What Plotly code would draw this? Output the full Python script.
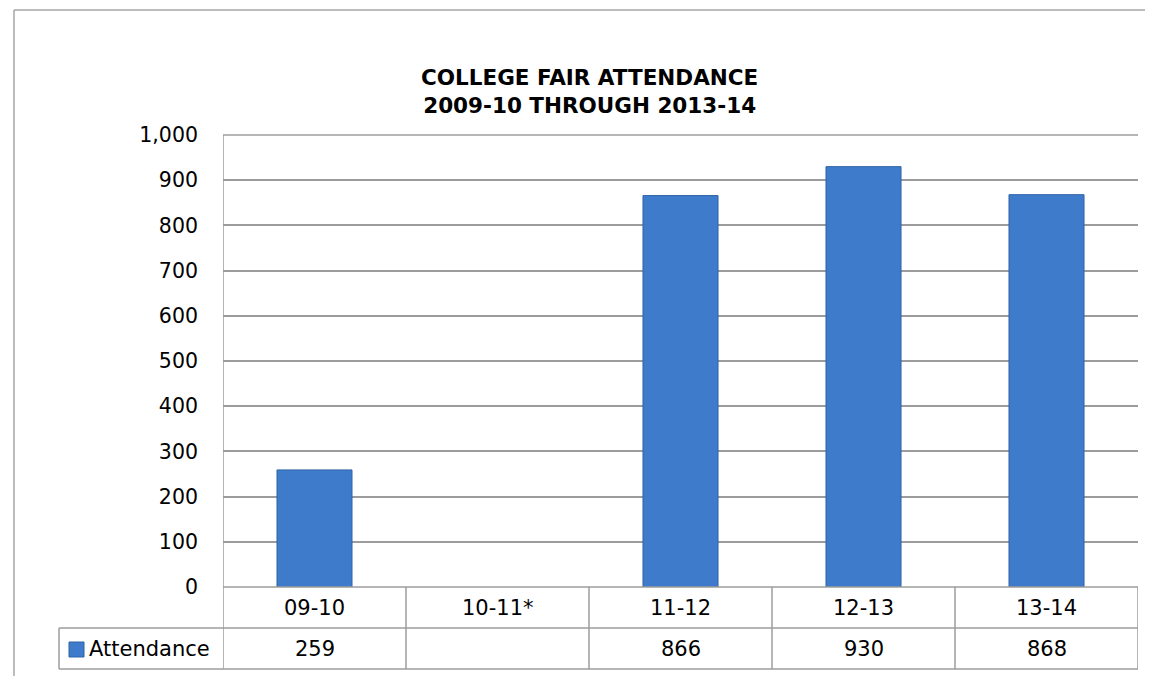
import plotly.graph_objects as go

categories = ["09-10", "10-11*", "11-12", "12-13", "13-14"]
attendance = [259, None, 866, 930, 868]
series_name = "Attendance"
y_ticks = [0, 100, 200, 300, 400, 500, 600, 700, 800, 900, 1000]
title_lines = ["COLLEGE FAIR ATTENDANCE", "2009-10 THROUGH 2013-14"]

OFF = 8  # page body margin
W, H = 1153 - OFF, 676 - OFF
L, R, T, B = 223 - OFF, 1138 - OFF, 135 - OFF, 587 - OFF
pw, ph = R - L, B - T

def px_x(px):
    return (px - OFF - L) / pw

def px_y(py):
    return (B - (py - OFF)) / ph

FONT = "DejaVu Sans"
GRID = "#9C9C9C"
BAR = "#3E7CCB"
BAR_EDGE = "#2F63A6"
LW = 1.5

fig = go.Figure()
fig.add_trace(go.Bar(
    x=list(range(len(categories))),
    y=attendance,
    name=series_name,
    width=0.41,
    marker=dict(color=BAR, line=dict(color=BAR_EDGE, width=1)),
    showlegend=False,
))

shapes = []
def line(xref, x0, x1, y0, y1, color=GRID, layer="above"):
    shapes.append(dict(type="line", xref=xref, yref="paper", x0=x0, x1=x1, y0=y0, y1=y1,
                       line=dict(color=color, width=LW), layer=layer))

# outer chart frame
line("paper", px_x(14), px_x(1160), px_y(10), px_y(10), color="#A6A6A6")
line("paper", px_x(14), px_x(14), px_y(10), px_y(680), color="#A6A6A6")

row1_bot = px_y(628)
row2_bot = px_y(669)
n = len(categories)
# plot area top & bottom lines
line("paper", 0, 1, 1, 1, layer="below")
line("paper", 0, 1, 0, 0)
# data table horizontal lines
line("paper", px_x(59), 1, row1_bot, row1_bot)
line("paper", px_x(59), 1, row2_bot, row2_bot)
line("paper", px_x(59), px_x(59), row1_bot, row2_bot)
# vertical dividers at category boundaries
for i in range(n + 1):
    line("x", i - 0.5, i - 0.5, row2_bot, 1 if i == 0 else 0)
# legend key square
shapes.append(dict(type="rect", xref="paper", yref="paper",
                   x0=px_x(69), x1=px_x(84), y0=px_y(657), y1=px_y(642),
                   fillcolor=BAR, line=dict(color=BAR_EDGE, width=1)))

TF = dict(family=FONT, size=21, color="#000")
annotations = []
for i, c in enumerate(categories):
    annotations.append(dict(x=i, y=px_y(608), xref="x", yref="paper", text=c,
                            showarrow=False, font=TF, xanchor="center", yanchor="middle"))
    v = attendance[i]
    annotations.append(dict(x=i, y=px_y(648.5), xref="x", yref="paper",
                            text="" if v is None else f"{v:,}",
                            showarrow=False, font=TF, xanchor="center", yanchor="middle"))
annotations.append(dict(x=px_x(87), y=px_y(648.5), xref="paper", yref="paper", text=series_name,
                        showarrow=False, font=TF, xanchor="left", yanchor="middle"))
annotations.append(dict(x=px_x(589), y=px_y(91), xref="paper", yref="paper",
                        text="<b>" + title_lines[0] + "</b><br><b>" + title_lines[1] + "</b>",
                        showarrow=False, font=dict(family=FONT, size=21.5, color="#000"),
                        xanchor="center", yanchor="middle", align="center"))

fig.update_layout(
    width=W, height=H,
    margin=dict(l=L, r=W - R, t=T, b=H - B, pad=0),
    paper_bgcolor="white", plot_bgcolor="white",
    shapes=shapes, annotations=annotations,
    xaxis=dict(range=[-0.5, n - 0.5], showticklabels=False, showgrid=False,
               zeroline=False, showline=False, ticks="", fixedrange=True),
    yaxis=dict(range=[0, 1000], tickvals=y_ticks, tickformat=",",
               showgrid=True, gridcolor=GRID, gridwidth=LW, zeroline=False,
               showline=False, ticks="", ticklabelstandoff=24,
               tickfont=dict(family=FONT, size=20.5, color="#000")),
)

fig.write_html("out.html")
